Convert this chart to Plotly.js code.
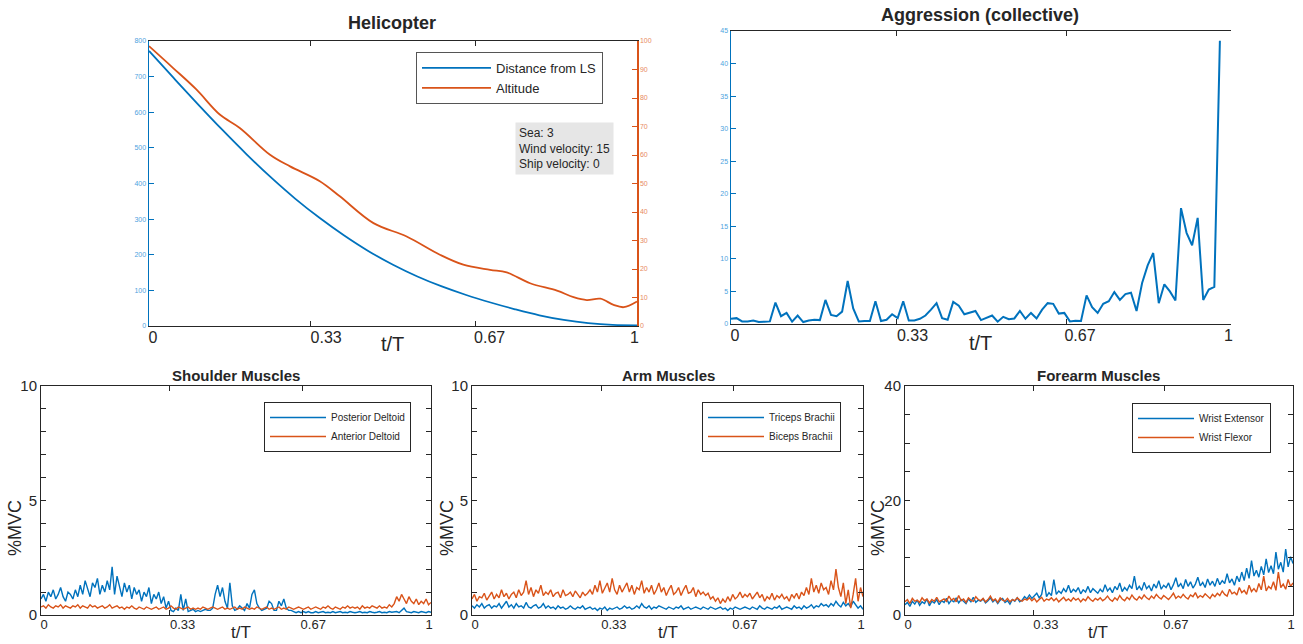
<!DOCTYPE html>
<html><head><meta charset="utf-8">
<script src="https://cdn.plot.ly/plotly-3.0.1.min.js"></script>
<style>html,body{margin:0;padding:0;background:#fff}#chart{width:1303px;height:644px}</style>
</head><body><div id="chart"></div>
<script>
// ---------------- DATA ----------------
const heliDistT = [0, 0.05, 0.1, 0.15, 0.2, 0.25, 0.3, 0.35, 0.4, 0.45, 0.5, 0.55, 0.6, 0.65, 0.7, 0.75, 0.8, 0.85, 0.9, 0.95, 1.0];
const heliDist  = [772, 697, 623, 551, 482, 417, 357, 303, 254, 210, 172, 139, 111, 87, 66, 47, 30, 17, 8, 3, 2];
const heliAltT  = [0, 0.049, 0.097, 0.145, 0.186, 0.248, 0.289, 0.350, 0.391, 0.460, 0.528, 0.596, 0.644, 0.699, 0.733, 0.781, 0.836, 0.870, 0.897, 0.925, 0.952, 0.973, 1.0];
const heliAlt   = [98.2, 90.6, 83, 74.2, 69.5, 60.1, 56, 50.8, 45.5, 36.1, 31.4, 25, 21.5, 19.7, 18.8, 15, 12.4, 10.1, 9.1, 9.6, 7.4, 6.6, 8.6];

const aggression = [0.8,0.9,0.4,0.4,0.55,0.3,0.35,0.4,3.3,1.2,
  1.7,0.35,1.3,0.3,0.55,0.65,0.6,3.7,1.4,1.2,
  1.9,6.6,2.4,0.4,0.45,0.45,3.5,0.45,0.65,1.5,
  0.9,3.5,0.55,0.55,0.8,1.3,2.2,3.2,0.9,0.65,
  3.4,2.8,1.5,1.8,2.0,0.6,0.9,1.3,0.35,1.1,
  0.75,0.85,2.0,0.8,1.7,0.85,2.2,3.2,3.1,1.6,
  1.7,0.4,0.5,0.45,4.4,2.6,1.7,3.1,3.5,4.9,
  3.7,4.6,4.8,2.0,6.3,9.0,10.9,3.2,6.1,5.0,
  3.6,17.8,14.0,12.1,16.3,3.7,5.3,5.7,43.5];

const shoulderPosterior = [0.7,0.9,0.6,1.0,0.8,1.1,0.7,0.9,1.2,0.8,0.6,1.0,0.9,0.7,1.1,0.8,
  1.3,0.9,1.5,1.1,0.8,1.4,1.2,1.6,0.9,1.3,1.0,1.5,1.1,2.1,0.9,1.7,
  1.2,0.8,1.4,1.0,1.3,0.7,1.2,0.9,1.1,0.6,1.0,0.8,1.2,0.5,0.9,0.7,
  1.0,0.5,0.8,0.3,0.6,
  0.2,0.15,0.3,0.2,0.9,0.2,0.7,0.15,0.2,0.25,0.15,
  0.2,0.15,0.2,0.25,0.2,0.2,0.3,0.9,1.3,0.8,1.2,0.6,0.3,1.4,0.4,0.2,
  0.25,0.4,0.3,0.2,0.5,0.3,0.9,1.1,0.5,0.3,0.2,0.25,0.3,0.6,0.5,0.2,
  0.2,0.6,0.4,0.7,0.3,0.2,0.2,0.15,0.1,0.15,0.1,0.15,0.1,0.15,0.1,0.1,
  0.15,0.1,0.12,0.15,0.1,0.12,0.1,0.15,0.1,0.12,0.15,0.1,0.12,0.1,0.15,0.12,
  0.1,0.12,0.15,0.1,0.12,0.1,0.15,0.12,0.1,0.12,0.15,0.1,0.12,0.1,0.15,0.12,
  0.12,0.15,0.1,0.2,0.3,0.15,0.12,0.1,0.15,0.12,0.1,0.15,0.12,0.1,0.15,0.12];
const shoulderAnterior = [0.35,0.4,0.3,0.45,0.35,0.3,0.4,0.35,0.45,0.3,0.4,0.35,0.3,0.4,0.35,0.45,
  0.3,0.4,0.35,0.3,0.45,0.35,0.4,0.3,0.35,0.4,0.3,0.35,0.45,0.3,0.35,0.4,
  0.3,0.35,0.25,0.35,0.3,0.4,0.3,0.25,0.35,0.3,0.25,0.35,0.3,0.25,0.3,0.35,
  0.25,0.3,0.35,0.25,0.3,0.4,0.3,0.25,0.35,0.3,0.25,0.3,0.35,0.25,0.3,0.25,
  0.3,0.25,0.35,0.3,0.25,0.3,0.35,0.3,0.25,0.3,0.35,0.25,0.3,0.25,0.3,0.35,
  0.25,0.3,0.25,0.35,0.3,0.25,0.3,0.25,0.35,0.3,0.25,0.3,0.35,0.25,0.3,0.25,
  0.3,0.35,0.25,0.3,0.25,0.35,0.3,0.25,0.3,0.35,0.3,0.25,0.3,0.35,0.25,0.3,
  0.35,0.3,0.25,0.35,0.3,0.4,0.3,0.25,0.35,0.3,0.25,0.35,0.3,0.4,0.3,0.35,
  0.3,0.35,0.25,0.4,0.3,0.35,0.3,0.4,0.35,0.3,0.4,0.3,0.35,0.3,0.45,0.35,
  0.5,0.8,0.6,0.9,0.7,0.5,0.8,0.6,0.5,0.7,0.45,0.6,0.5,0.7,0.45,0.55];

const armTriceps = [0.4,0.3,0.45,0.35,0.5,0.3,0.4,0.45,0.3,0.4,0.35,0.5,0.3,0.45,0.6,0.35,
  0.45,0.3,0.5,0.35,0.4,0.3,0.55,0.35,0.3,0.4,0.45,0.3,0.35,0.5,0.3,0.4,
  0.3,0.35,0.25,0.4,0.3,0.35,0.25,0.3,0.4,0.3,0.25,0.35,0.3,0.4,0.25,0.3,
  0.35,0.25,0.3,0.2,0.3,0.25,0.35,0.2,0.3,0.25,0.3,0.35,0.25,0.3,0.4,0.3,
  0.35,0.25,0.3,0.4,0.3,0.5,0.35,0.3,0.4,0.25,0.35,0.3,0.4,0.35,0.3,0.25,
  0.35,0.3,0.25,0.35,0.3,0.4,0.25,0.3,0.35,0.25,0.3,0.35,0.3,0.25,0.35,0.3,
  0.25,0.35,0.3,0.25,0.3,0.35,0.25,0.3,0.2,0.3,0.25,0.35,0.3,0.25,0.3,0.35,
  0.3,0.25,0.35,0.3,0.25,0.4,0.3,0.25,0.35,0.3,0.25,0.35,0.3,0.4,0.25,0.3,
  0.35,0.3,0.25,0.4,0.3,0.35,0.25,0.4,0.3,0.35,0.45,0.3,0.4,0.35,0.5,0.4,
  0.45,0.35,0.5,0.4,0.6,0.45,0.35,0.55,0.4,0.5,0.35,0.6,0.45,0.3,0.4,0.25];
const armBiceps = [0.7,0.9,0.6,0.8,0.75,0.95,0.65,0.85,1.0,0.7,0.9,0.75,1.1,0.8,0.95,0.7,
  0.9,1.0,0.75,1.1,0.85,1.0,1.5,0.9,1.2,0.8,1.1,0.95,1.3,0.85,1.0,0.9,
  1.1,0.8,0.95,1.0,0.75,1.1,0.85,0.9,1.0,0.8,1.05,0.9,0.75,1.0,0.85,0.95,
  1.1,0.9,1.3,1.0,1.5,0.95,1.2,1.4,1.0,1.6,1.1,0.9,1.3,1.0,1.2,1.4,
  1.0,1.3,0.9,1.2,1.1,1.5,0.95,1.2,1.0,1.3,0.9,1.1,1.4,1.0,1.2,0.85,
  1.1,1.3,0.9,1.0,1.2,0.85,1.1,1.3,0.95,1.0,1.2,0.8,1.1,0.9,1.0,0.85,
  0.95,0.7,0.8,0.6,0.75,0.5,0.7,0.55,0.8,0.6,0.9,0.7,0.8,1.0,0.75,0.9,
  0.8,0.95,0.7,0.85,1.0,0.75,0.9,0.6,0.8,0.7,0.95,0.65,0.85,0.75,0.9,0.7,
  0.8,0.6,0.9,0.75,0.95,0.7,1.0,0.85,1.2,0.9,1.6,1.0,1.3,0.95,1.4,1.1,
  1.2,0.9,1.5,1.1,2.0,1.2,0.8,1.4,0.5,1.1,0.3,0.9,1.6,0.6,1.2,0.8];

const wristExtensor = [1.8,2.2,1.5,2.4,1.9,2.6,1.7,2.3,2.0,2.8,1.6,2.4,2.1,2.7,1.8,2.5,
  2.2,2.9,2.0,2.6,2.3,3.0,2.1,2.7,2.4,2.0,2.8,2.3,3.1,2.2,2.6,2.4,
  2.8,2.1,2.5,3.0,2.3,2.7,2.0,2.6,2.9,2.2,2.5,1.9,2.7,2.4,3.0,2.3,
  2.6,3.2,2.8,3.5,2.9,3.3,3.8,3.0,3.6,6.0,3.2,3.9,3.4,6.2,3.6,4.2,
  3.8,4.6,4.0,5.2,3.9,4.5,4.1,4.8,3.7,4.4,4.0,5.0,3.9,4.6,4.2,3.8,
  4.5,4.0,5.3,4.2,4.7,3.9,5.0,4.4,5.6,4.1,4.8,4.3,5.2,4.6,6.8,4.4,
  5.0,4.3,5.7,4.6,5.1,4.2,5.4,4.7,6.0,4.5,5.2,4.8,5.6,4.4,5.3,6.5,
  4.9,5.5,4.6,6.2,5.0,5.8,4.7,5.4,6.6,5.1,5.7,4.8,6.3,5.2,5.9,5.0,
  6.4,5.3,6.0,5.5,7.2,5.6,6.3,5.2,6.8,5.8,7.5,6.0,8.2,6.4,9.5,6.8,
  7.8,6.6,8.5,7.0,9.8,7.4,8.6,7.2,11.0,8.0,9.2,7.5,11.5,8.4,10.2,9.0];
const wristFlexor = [2.3,2.7,2.0,2.9,2.4,2.6,2.2,3.0,2.5,2.8,2.1,2.7,2.4,3.1,2.3,2.6,
  2.8,2.4,3.3,2.6,2.9,2.3,3.4,2.5,2.8,2.2,3.0,2.6,2.4,3.2,2.7,2.5,
  2.9,2.3,2.7,3.3,2.5,2.8,2.2,3.0,2.6,2.4,2.9,2.3,2.7,2.5,3.0,2.6,
  2.4,2.8,2.6,3.0,2.5,2.9,2.3,2.7,3.1,2.4,2.8,2.6,3.0,2.5,2.9,2.3,
  2.7,3.1,2.5,2.8,2.4,3.0,2.6,2.9,2.3,2.8,2.5,3.2,2.7,2.4,2.9,2.6,
  3.0,2.5,2.8,3.3,2.7,2.4,3.0,2.6,3.4,2.8,2.5,3.1,2.7,3.5,2.9,2.6,
  3.2,2.8,3.5,3.0,2.7,3.3,2.9,3.6,3.1,2.8,3.4,3.0,2.7,3.2,3.8,2.9,
  3.3,3.0,3.6,3.1,2.8,3.5,3.2,3.9,3.0,3.4,3.1,3.7,3.3,2.9,3.6,3.2,
  3.8,3.4,4.2,3.6,3.3,4.5,3.7,4.0,3.5,4.8,3.9,4.3,3.6,5.2,4.1,4.6,
  4.0,5.5,4.4,6.8,4.2,5.0,4.6,5.8,4.3,7.5,4.8,5.4,4.5,6.2,5.0,5.6];

const xTickVals = [0, 0.33, 0.67, 1];
const xTickText = ['0', '0.33', '0.67', '1'];
const xLabelPos = [0.008, 0.363, 0.698, 0.995];
const emgYTicks10 = [0,1,2,3,4,5,6,7,8,9,10];
const emgYText10  = ['0','','','','','5','','','','','10'];
const emgYTicks40 = [0,5,10,15,20,25,30,35,40];
const emgYText40  = ['0','','','','20','','','','40'];

// ---------------- BUILD ----------------
const W = 1303, H = 644;
const fx = p => p / W, fy = p => 1 - p / H;
const BLUE = '#0072BD', ORANGE = '#D95319', INK = '#262626';
const FONT = 'Liberation Sans, Arial, Helvetica, sans-serif';

const aggT = aggression.map((_, i) => i / 90);
const emgT = arr => arr.map((_, i) => i / (arr.length - 1));

const traces = [
  {x: heliDistT, y: heliDist, xaxis: 'x', yaxis: 'y', name: 'Distance from LS', mode: 'lines', line: {color: BLUE, width: 1.8, shape: 'spline'}, legend: 'legend'},
  {x: heliAltT, y: heliAlt, xaxis: 'x', yaxis: 'y2', name: 'Altitude', mode: 'lines', line: {color: ORANGE, width: 1.8, shape: 'spline'}, legend: 'legend'},
  {x: aggT, y: aggression, xaxis: 'x2', yaxis: 'y3', name: 'Aggression', mode: 'lines', line: {color: BLUE, width: 2}, showlegend: false},
  {x: emgT(shoulderPosterior), y: shoulderPosterior, xaxis: 'x3', yaxis: 'y5', name: 'Posterior Deltoid', mode: 'lines', line: {color: BLUE, width: 1.4}, legend: 'legend2'},
  {x: emgT(shoulderAnterior), y: shoulderAnterior, xaxis: 'x3', yaxis: 'y5', name: 'Anterior Deltoid', mode: 'lines', line: {color: ORANGE, width: 1.4}, legend: 'legend2'},
  {x: emgT(armTriceps), y: armTriceps, xaxis: 'x4', yaxis: 'y6', name: 'Triceps Brachii', mode: 'lines', line: {color: BLUE, width: 1.4}, legend: 'legend3'},
  {x: emgT(armBiceps), y: armBiceps, xaxis: 'x4', yaxis: 'y6', name: 'Biceps Brachii', mode: 'lines', line: {color: ORANGE, width: 1.4}, legend: 'legend3'},
  {x: emgT(wristExtensor), y: wristExtensor, xaxis: 'x5', yaxis: 'y7', name: 'Wrist Extensor', mode: 'lines', line: {color: BLUE, width: 1.4}, legend: 'legend4'},
  {x: emgT(wristFlexor), y: wristFlexor, xaxis: 'x5', yaxis: 'y7', name: 'Wrist Flexor', mode: 'lines', line: {color: ORANGE, width: 1.4}, legend: 'legend4'}
];
// empty carriers so that the tick-label axes are drawn
[['x6', 'y'], ['x7', 'y3'], ['x8', 'y5'], ['x9', 'y6'], ['x10', 'y7']].forEach(([xa, ya]) =>
  traces.push({x: [], y: [], xaxis: xa, yaxis: ya, mode: 'lines', showlegend: false, hoverinfo: 'skip'}));

function mainX(x0, x1, anchor) {
  return {domain: [fx(x0), fx(x1)], anchor: anchor, range: [0, 1], tickmode: 'array', tickvals: xTickVals,
    showticklabels: false, ticks: 'inside', ticklen: 5, tickcolor: INK, showline: true, linecolor: INK, linewidth: 1,
    mirror: 'ticks', showgrid: false, zeroline: false, fixedrange: true};
}
function labelX(over, anchor, size) {
  return {overlaying: over, anchor: anchor, side: 'bottom', range: [0, 1], tickmode: 'array', tickvals: xLabelPos, ticktext: xTickText,
    ticks: '', showline: false, showgrid: false, zeroline: false, tickfont: {size: size, color: INK}};
}
function emgY(y0, y1, anchor, vals, txt, rng) {
  return {domain: [fy(y1), fy(y0)], anchor: anchor, range: rng, tickmode: 'array', tickvals: vals, ticktext: txt,
    ticks: 'inside', ticklen: 5, tickcolor: INK, showline: true, linecolor: INK, mirror: 'ticks',
    showgrid: false, zeroline: false, tickfont: {size: 15, color: INK}};
}
function emgLegend(x, y) {
  return {x: fx(x), y: fy(y), xanchor: 'left', yanchor: 'top', bgcolor: '#fff', bordercolor: INK, borderwidth: 1,
    font: {size: 10, color: INK}, itemwidth: 56};
}

const layout = {
  width: W, height: H, margin: {l: 0, r: 0, t: 0, b: 0}, paper_bgcolor: '#fff', plot_bgcolor: '#fff',
  font: {family: FONT, color: INK},
  xaxis: mainX(149, 637, 'y'),
  yaxis: {domain: [fy(326), fy(41)], anchor: 'x', range: [0, 800], dtick: 100, ticks: 'inside', ticklen: 5,
    tickcolor: BLUE, showline: true, linecolor: BLUE, linewidth: 1.5, showgrid: false, zeroline: false,
    tickfont: {size: 7, color: '#4da3e0'}},
  yaxis2: {overlaying: 'y', side: 'right', anchor: 'x', range: [0, 100], dtick: 10, ticks: 'inside', ticklen: 5,
    tickcolor: ORANGE, showline: true, linecolor: ORANGE, linewidth: 1.5, showgrid: false, zeroline: false,
    tickfont: {size: 7, color: '#e88a62'}},
  xaxis2: mainX(731, 1231, 'y3'),
  yaxis3: {domain: [fy(324), fy(31)], anchor: 'x2', range: [0, 45], dtick: 5, ticks: 'inside', ticklen: 5,
    tickcolor: BLUE, showline: true, linecolor: BLUE, linewidth: 1.5, showgrid: false, zeroline: false,
    tickfont: {size: 7, color: '#4da3e0'}},
  yaxis4: {overlaying: 'y3', side: 'right', anchor: 'x2', range: [0, 100], dtick: 10, ticks: 'inside', ticklen: 5,
    tickcolor: INK, showline: true, linecolor: INK, showticklabels: false, showgrid: false, zeroline: false},
  xaxis3: mainX(41, 431, 'y5'),
  yaxis5: emgY(386, 615, 'x3', emgYTicks10, emgYText10, [0, 10]),
  xaxis4: mainX(472, 863, 'y6'),
  yaxis6: emgY(386, 615, 'x4', emgYTicks10, emgYText10, [0, 10]),
  xaxis5: mainX(905, 1293, 'y7'),
  yaxis7: emgY(386, 615, 'x5', emgYTicks40, emgYText40, [0, 40]),
  xaxis6: labelX('x', 'y', 16),
  xaxis7: labelX('x2', 'y3', 16),
  xaxis8: labelX('x3', 'y5', 13),
  xaxis9: labelX('x4', 'y6', 13),
  xaxis10: labelX('x5', 'y7', 13),
  legend: {x: fx(416), y: fy(52), xanchor: 'left', yanchor: 'top', bgcolor: '#fff', bordercolor: '#555', borderwidth: 1,
    font: {size: 13, color: INK}, itemwidth: 69},
  legend2: emgLegend(264, 402),
  legend3: emgLegend(702, 402),
  legend4: emgLegend(1132, 403),
  annotations: [
    {text: '<b>Helicopter</b>', x: fx(392), y: fy(23), font: {size: 18}},
    {text: '<b>Aggression (collective)</b>', x: fx(980), y: fy(15), font: {size: 18}},
    {text: '<b>Shoulder Muscles</b>', x: fx(236), y: fy(375), font: {size: 15}},
    {text: '<b>Arm Muscles</b>', x: fx(668), y: fy(375), font: {size: 15}},
    {text: '<b>Forearm Muscles</b>', x: fx(1098), y: fy(375), font: {size: 15}},
    {text: 't/T', x: fx(392), y: fy(344), font: {size: 20}},
    {text: 't/T', x: fx(980), y: fy(343), font: {size: 20}},
    {text: 't/T', x: fx(241), y: fy(632), font: {size: 17}},
    {text: 't/T', x: fx(668), y: fy(632), font: {size: 17}},
    {text: 't/T', x: fx(1098), y: fy(632), font: {size: 17}},
    {text: '%MVC', x: fx(15), y: fy(528), textangle: -90, font: {size: 18}},
    {text: '%MVC', x: fx(447), y: fy(528), textangle: -90, font: {size: 18}},
    {text: '%MVC', x: fx(878), y: fy(528), textangle: -90, font: {size: 18}},
    {text: 'Sea: 3<br>Wind velocity: 15<br>Ship velocity: 0', x: fx(515), y: fy(122), xanchor: 'left', yanchor: 'top',
      align: 'left', bgcolor: '#e6e6e6', borderpad: 3, font: {size: 12}}
  ].map(a => Object.assign({xref: 'paper', yref: 'paper', showarrow: false, xanchor: 'center', yanchor: 'middle'}, a))
};

Plotly.newPlot('chart', traces, layout, {displayModeBar: false, staticPlot: true});
</script>
</body></html>
